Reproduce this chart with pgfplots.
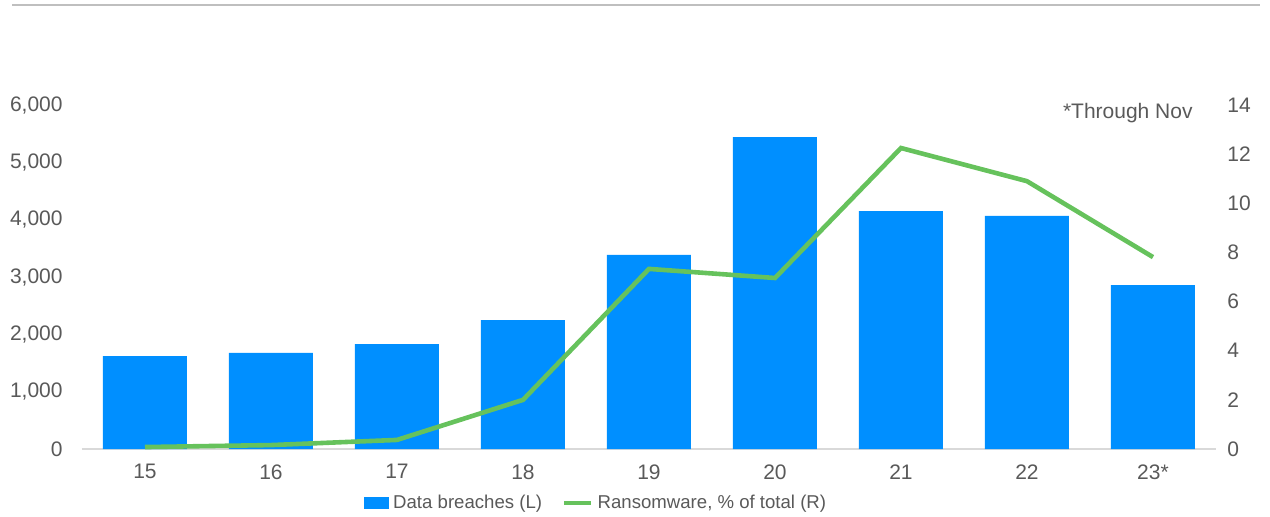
\documentclass[border=0pt]{standalone}
\usepackage{pgfplots}
\pgfplotsset{compat=1.18}
\usepackage{fontspec}
\setmainfont{Liberation Sans}
\definecolor{barblue}{HTML}{008FFF}
\definecolor{linegreen}{HTML}{66C25C}
\definecolor{txtgray}{HTML}{595959}
\definecolor{rulegray}{HTML}{BFBFBF}
\definecolor{axgray}{HTML}{D9D9D9}
\begin{document}
\fontsize{10.5pt}{12.6pt}\selectfont
\begin{tikzpicture}
\useasboundingbox (0,0) rectangle (635pt,-258pt);
\draw[rulegray, line width=1pt] (6pt,-2.3pt) -- (630pt,-2.3pt);
\begin{axis}[
  at={(41pt,-224.5pt)}, anchor=south west, scale only axis,
  width=567pt, height=172pt,
  xmin=-0.5, xmax=8.5, ymin=0, ymax=6000,
  xtick={0,1,2,3,4,5,6,7,8},
  xticklabels={15,16,17,18,19,20,21,22,23*},
  ytick={0,1000,2000,3000,4000,5000,6000},
  scaled y ticks=false,
  /pgf/number format/.cd, 1000 sep={,}, assume math mode=true, /pgfplots/.cd,
  axis x line*=bottom, axis y line*=left,
  axis line style={-},
  x axis line style={draw=axgray, line width=0.6pt},
  y axis line style={draw=none},
  major tick length=0pt,
  tick label style={font=\fontsize{10.5pt}{12.6pt}\selectfont, text=txtgray},
  yticklabel style={xshift=-6pt},
  xticklabel style={yshift=-4pt},
  clip=false,
]
\addplot[ybar, bar width=42pt, fill=barblue, draw=none] coordinates {
(0,1620) (1,1675) (2,1830) (3,2250) (4,3385) (5,5440) (6,4150) (7,4065) (8,2860)};
\end{axis}
\begin{axis}[
  at={(41pt,-224.5pt)}, anchor=south west, scale only axis,
  width=567pt, height=172pt,
  xmin=-0.5, xmax=8.5, ymin=0, ymax=14,
  ytick={0,2,4,6,8,10,12,14},
  /pgf/number format/assume math mode=true,
  axis x line=none, axis y line*=right,
  axis line style={-},
  y axis line style={draw=none},
  major tick length=0pt,
  tick label style={font=\fontsize{10.5pt}{12.6pt}\selectfont, text=txtgray},
  yticklabel style={xshift=2pt},
  clip=false,
  legend columns=2,
  legend style={draw=none, fill=none, at={(0.2487,-0.157)}, anchor=west,
    font=\fontsize{9.3pt}{11pt}\selectfont, text=txtgray,
    inner sep=0pt, /tikz/every even column/.append style={column sep=8pt}},
]
\addlegendimage{legend image code/.code={\fill[barblue] (0pt,-2.6pt) rectangle (12pt,2.6pt);}}
\addlegendentry{Data breaches (L)}
\addplot[linegreen, line width=2.3pt, mark=none,
  legend image code/.code={\draw[linegreen, line width=2.3pt] (0pt,0pt) -- (13.5pt,0pt);}]
  coordinates {(0,0.08) (1,0.16) (2,0.37) (3,2.0) (4,7.33) (5,6.96) (6,12.25) (7,10.9) (8,7.81)};
\addlegendentry{Ransomware, \% of total (R)}
\end{axis}
\node[anchor=east, text=txtgray, inner sep=0pt] at (596.5pt,-56.5pt) {*Through Nov};
\end{tikzpicture}
\end{document}
